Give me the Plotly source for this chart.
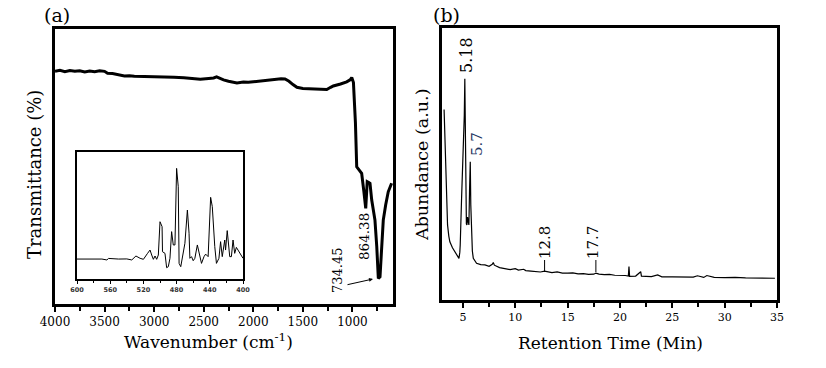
import plotly.graph_objects as go

# ---------------- data ----------------
# (a) FTIR spectrum: wavenumber (cm-1) vs transmittance (%)
ir_wavenumber = [4000, 3950, 3900, 3850, 3800, 3750, 3700, 3650, 3600, 3550, 3500, 3470, 3420, 3350,
                 3300, 3250, 3200, 3100, 3000, 2900, 2800, 2700, 2600, 2535, 2450, 2400, 2370, 2340,
                 2300, 2250, 2200, 2165, 2100, 2050, 2000, 1950, 1900, 1863, 1800, 1720, 1680, 1640,
                 1600, 1560, 1500, 1400, 1300, 1259, 1220, 1193, 1120, 1058, 1020, 1007, 990, 970,
                 957, 930, 907, 885, 873, 866, 858, 851, 835, 823, 806, 790, 773, 755, 739, 722,
                 705, 689, 665, 639, 605]
ir_transmittance = [84.6, 85.0, 84.5, 84.9, 84.6, 84.8, 84.4, 84.7, 84.5, 84.8, 84.6, 83.9, 83.8, 83.4,
                    82.9, 83.0, 82.8, 82.7, 82.7, 82.6, 82.5, 82.3, 82.0, 81.7, 82.0, 82.2, 82.6, 82.0,
                    81.5, 81.0, 80.6, 80.4, 80.7, 80.6, 80.8, 81.0, 81.2, 81.5, 81.6, 81.9, 81.8, 81.0,
                    79.8, 78.8, 78.4, 78.3, 78.0, 78.0, 78.8, 79.3, 80.0, 80.8, 81.6, 82.4, 80.5, 66.0,
                    49.9, 48.6, 47.5, 41.0, 36.0, 34.8, 40.0, 44.5, 44.2, 43.9, 37.9, 33.5, 30.5, 21.0,
                    9.3, 9.9, 20.0, 30.5, 36.0, 40.8, 43.9]

# inset: 600-400 cm-1 region
inset_wavenumber = [600, 590, 580, 570, 564, 562, 550, 540, 534, 529, 524, 520, 515, 512, 510, 508, 506,
                    504, 502, 500, 497.5, 497, 494, 492, 490, 488, 486, 484, 482, 480, 478, 477, 475,
                    473, 470, 467, 465, 464, 462, 460, 458, 455, 453, 450, 447, 445, 442, 439, 437,
                    436, 434, 432, 429, 427, 425, 422, 421, 419, 417, 416, 414, 412, 410, 408, 406,
                    404, 400]
inset_signal = [15.7, 15.7, 15.6, 15.7, 15.0, 16.2, 15.7, 15.8, 15.0, 18.1, 16.3, 15.5, 20.2, 22.8, 18.9,
                15.5, 18.1, 15.5, 18.9, 45.1, 41.2, 21.5, 20.2, 8.9, 9.7, 16.3, 37.3, 26.8, 26.8,
                87.1, 72.7, 12.3, 9.7, 17.6, 28.1, 54.3, 36.0, 16.3, 17.6, 14.4, 16.3, 26.8, 20.2,
                12.3, 17.6, 19.6, 17.6, 64.3, 57.0, 42.5, 25.5, 12.3, 16.3, 29.4, 17.6, 30.7, 22.8,
                38.1, 20.2, 17.6, 17.6, 30.7, 20.2, 24.9, 22.8, 20.2, 16.3]

# (b) GC chromatogram: retention time (min) vs abundance (a.u.)
gc_time = [3.2, 3.25, 3.33, 3.42, 3.53, 3.65, 3.75, 4.0, 4.23, 4.45, 4.62, 4.7, 4.74, 4.87, 4.95, 5.0,
           5.09, 5.13, 5.18, 5.22, 5.28, 5.33, 5.38, 5.44, 5.5, 5.57, 5.63, 5.7, 5.75, 5.82, 5.9, 5.99,
           6.3, 6.7, 7.1, 7.5, 7.8, 7.9, 8.0, 8.5, 9.0, 9.5, 10.0, 10.3, 10.8, 11.0, 11.5, 12.0, 12.4,
           12.8, 13.2, 13.5, 14.0, 14.5, 15.0, 15.5, 16.0, 16.5, 17.0, 17.5, 17.7, 18.0, 18.5, 19.0,
           19.5, 20.0, 20.5, 20.8, 20.86, 20.92, 21.5, 21.98, 22.05, 22.5, 23.0, 23.6, 24.0, 25.0, 26.0,
           27.0, 27.4, 28.0, 28.3, 29.0, 30.0, 31.0, 32.0, 33.0, 34.0, 34.8]
gc_abundance = [70.0, 62.0, 49.6, 37.0, 27.6, 23.5, 21.4, 19.2, 17.8, 16.5, 15.3, 17.5, 20.2, 37.4, 45.0,
                49.6, 61.9, 68.0, 81.3, 55.0, 32.5, 28.0, 27.6, 30.5, 29.0, 27.6, 40.0, 50.8, 35.0, 22.7,
                18.0, 15.3, 13.5, 13.0, 12.9, 12.4, 13.1, 13.8, 12.8, 11.9, 11.6, 11.2, 11.5, 11.0, 11.3,
                10.8, 10.6, 10.5, 10.3, 10.6, 10.2, 10.1, 10.3, 9.9, 9.9, 10.0, 9.6, 9.7, 9.4, 9.5, 9.9,
                9.5, 9.3, 9.4, 9.1, 9.1, 9.0, 8.8, 12.3, 8.7, 8.8, 10.4, 8.8, 8.7, 8.6, 9.2, 8.5, 8.5,
                8.4, 8.4, 8.9, 8.3, 9.0, 8.3, 8.2, 8.3, 8.1, 8.1, 8.0, 8.0]

gc_peak_labels = ["5.18", "5.7", "12.8", "17.7"]
ir_peak_labels = ["864.38", "734.45"]
ir_xticks = [4000, 3500, 3000, 2500, 2000, 1500, 1000]
inset_xticks = [600, 560, 520, 480, 440, 400]
gc_xticks = [5, 10, 15, 20, 25, 30, 35]

# ---------------- figure ----------------
W, H = 826, 368
SERIF = "DejaVu Serif"


def px(x):
    return x / W


def py(y):
    return 1 - y / H


fig = go.Figure()
fig.add_trace(go.Scatter(x=ir_wavenumber, y=ir_transmittance, mode="lines",
                         line=dict(color="black", width=3), xaxis="x", yaxis="y", showlegend=False))
fig.add_trace(go.Scatter(x=inset_wavenumber, y=inset_signal, mode="lines",
                         line=dict(color="black", width=1), xaxis="x3", yaxis="y3", showlegend=False))
fig.add_trace(go.Scatter(x=gc_time, y=gc_abundance, mode="lines",
                         line=dict(color="black", width=1.2), xaxis="x2", yaxis="y2", showlegend=False))

frame = dict(showline=True, linecolor="black", linewidth=3, mirror=True, showgrid=False, zeroline=False)

fig.update_layout(
    width=W, height=H, margin=dict(l=0, r=0, t=0, b=0, autoexpand=False),
    paper_bgcolor="white", plot_bgcolor="white",
    font=dict(family=SERIF, color="black"),
    xaxis=dict(domain=[px(55), px(393)], range=[4000, 591], tickvals=ir_xticks,
               ticks="outside", ticklen=5, tickwidth=2, tickcolor="black",
               minor=dict(ticks="outside", dtick=250, tick0=0, ticklen=4, tickwidth=2, tickcolor="black"),
               tickfont=dict(size=12, family=SERIF), anchor="y", **frame),
    yaxis=dict(domain=[py(304), py(29)], range=[0, 100], showticklabels=False, ticks="",
               anchor="x", **frame),
    xaxis2=dict(domain=[px(442), px(777)], range=[3, 35], tickvals=gc_xticks,
                ticks="outside", ticklen=5, tickwidth=2, tickcolor="black",
                minor=dict(ticks="outside", dtick=2.5, tick0=0, ticklen=4, tickwidth=2, tickcolor="black"),
                tickfont=dict(size=11, family=SERIF), anchor="y2", **frame),
    yaxis2=dict(domain=[py(300), py(28)], range=[0, 100], showticklabels=False, ticks="",
                anchor="x2", **frame),
    xaxis3=dict(domain=[px(77), px(243)], range=[600, 400], tickvals=inset_xticks,
                ticks="outside", ticklen=3, tickwidth=1, tickcolor="black",
                minor=dict(ticks="outside", dtick=20, tick0=0, ticklen=2, tickwidth=1, tickcolor="black"),
                tickfont=dict(size=6.5, family="DejaVu Sans", color="#333", weight="bold"),
                anchor="y3", showline=True, linecolor="black", linewidth=1.5, mirror=True,
                showgrid=False, zeroline=False),
    yaxis3=dict(domain=[py(279), py(152)], range=[0, 100], showticklabels=False, ticks="",
                anchor="x3", showline=True, linecolor="black", linewidth=1.5, mirror=True,
                showgrid=False, zeroline=False),
)

ann = []


def label(text, x, y, size, angle=0, color="black"):
    ann.append(dict(text=text, x=px(x), y=py(y), xref="paper", yref="paper", showarrow=False,
                    xanchor="center", yanchor="middle", textangle=angle,
                    font=dict(size=size, family=SERIF, color=color)))


label("(a)", 57, 15, 19)
label("(b)", 446, 15, 19)
label("Wavenumber (cm<sup>-1</sup>)", 208, 341, 17)
label("Retention Time (Min)", 610, 343, 17)
label("Transmittance (%)", 34, 175, 18, -90)
label("Abundance (a.u.)", 422, 165, 17.5, -90)
label(ir_peak_labels[0], 364, 237, 13.5, -90)
label(ir_peak_labels[1], 337, 270, 13, -90)
label(gc_peak_labels[0], 467, 55, 16, -90)
label(gc_peak_labels[1], 477, 144, 15, -90, color="#1f3864")
label(gc_peak_labels[2], 545, 243, 15, -90)
label(gc_peak_labels[3], 593, 243, 15, -90)

# arrow pointing to the 734.45 band
ann.append(dict(x=px(373), y=py(279), ax=-27, ay=6, xref="paper", yref="paper",
                axref="pixel", ayref="pixel", text="", showarrow=True, arrowhead=2,
                arrowsize=0.8, arrowwidth=1, arrowcolor="black"))
fig.update_layout(annotations=ann)

# vertical markers for the minor GC peaks
for t in (12.8, 17.7):
    fig.add_shape(type="line", xref="x2", yref="paper", x0=t, x1=t, y0=py(272), y1=py(260),
                  line=dict(color="black", width=1))

fig.write_html("out.html", config={"displayModeBar": False},
               post_script="document.body.style.margin='0';document.body.style.overflow='hidden';")
